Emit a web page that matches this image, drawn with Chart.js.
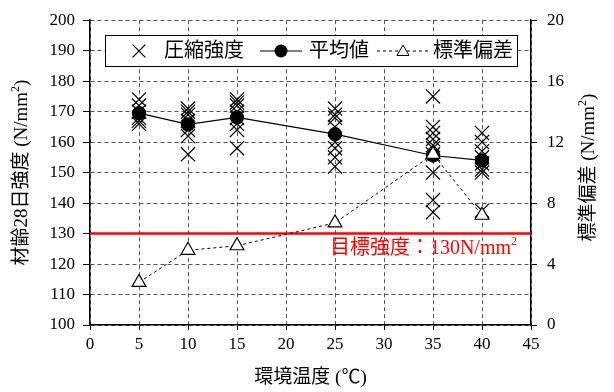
<!DOCTYPE html>
<html>
<head>
<meta charset="utf-8">
<script src="https://cdn.jsdelivr.net/npm/chart.js@4/dist/chart.umd.min.js"></script>
<style>
  html, body { margin: 0; padding: 0; background: #fff; }
  #wrap { width: 614px; height: 392px; }
</style>
</head>
<body>
<div id="wrap"><canvas id="c" width="614" height="392"></canvas></div>
<script>
// Ambient temperature (°C) of each curing condition
const temps = [5, 10, 15, 25, 35, 40];

// Individual 28-day compressive strengths (N/mm²) per temperature
const strengthAt5  = [174, 172, 170, 168, 167, 166];
const strengthAt10 = [171, 170, 169, 167, 164, 162, 156];
const strengthAt15 = [174, 173, 172, 170, 168, 166, 164, 158];
const strengthAt25 = [171, 169, 168, 165, 160, 158, 155, 152];
const strengthAt35 = [175, 165, 163, 161, 159, 158, 156, 150, 141, 137];
const strengthAt40 = [163, 160, 157, 155, 153, 151, 150, 137.5];

// Mean strength and standard deviation per temperature
const meanStrength = [169.5, 165.8, 168.1, 162.6, 155.6, 154.0];
const stdDev       = [2.8, 4.9, 5.2, 6.7, 11.2, 7.2];

// Target strength line
const targetStrength = 130;
const targetRange = [0, 45];

const strengthSets = [strengthAt5, strengthAt10, strengthAt15, strengthAt25, strengthAt35, strengthAt40];

const FONT = "'Liberation Serif','Noto Sans CJK JP',serif";
const GRID = '#555';

// Text with optional superscript pieces
function drawRich(ctx, parts, x, y, align, size, color) {
  ctx.save();
  ctx.fillStyle = color || '#000';
  ctx.textBaseline = 'middle';
  ctx.textAlign = 'left';
  let total = 0;
  const widths = parts.map(p => {
    ctx.font = (p.sup ? Math.round(size * 0.62) : size) + 'px ' + FONT;
    const w = ctx.measureText(p.t).width;
    total += w;
    return w;
  });
  let cx = align === 'center' ? x - total / 2 : (align === 'right' ? x - total : x);
  parts.forEach((p, i) => {
    ctx.font = (p.sup ? Math.round(size * 0.62) : size) + 'px ' + FONT;
    ctx.fillText(p.t, cx, p.sup ? y - size * 0.32 : y);
    cx += widths[i];
  });
  ctx.restore();
}

const overlay = {
  id: 'overlay',
  afterDatasetsDraw(chart) {
    const ctx = chart.ctx;
    const xs = chart.scales.x, ys = chart.scales.y;
    // target label under the red line
    drawRich(ctx, [{t: '目標強度：' + targetStrength + 'N/mm'}, {t: '2', sup: true}],
      xs.getPixelForValue(45) - 14, ys.getPixelForValue(targetStrength) + 15, 'right', 20, '#ff0000');

    // legend box
    const L = 105, T = 35, R = 518, B = 67, cy = (T + B) / 2;
    ctx.save();
    ctx.fillStyle = '#fff';
    ctx.fillRect(L, T, R - L, B - T);
    ctx.strokeStyle = '#000';
    ctx.lineWidth = 1;
    ctx.strokeRect(L + 0.5, T + 0.5, R - L - 1, B - T - 1);
    ctx.lineWidth = 1.2;
    Chart.helpers.drawPoint(ctx, {pointStyle: 'crossRot', radius: 9, borderWidth: 1.2}, 139, cy);
    ctx.font = '20px ' + FONT;
    ctx.fillStyle = '#000';
    ctx.textBaseline = 'middle';
    ctx.fillText('圧縮強度', 164, cy + 1);
    ctx.beginPath(); ctx.moveTo(260, cy); ctx.lineTo(302, cy); ctx.lineWidth = 1.2; ctx.stroke();
    ctx.beginPath(); ctx.arc(281, cy, 6.5, 0, Math.PI * 2); ctx.fill();
    ctx.fillText('平均値', 309, cy + 1);
    ctx.setLineDash([3, 3]);
    ctx.lineWidth = 1;
    ctx.beginPath(); ctx.moveTo(377, cy); ctx.lineTo(430, cy); ctx.stroke();
    ctx.setLineDash([]);
    ctx.fillStyle = '#fff';
    ctx.strokeStyle = '#000';
    Chart.helpers.drawPoint(ctx, {pointStyle: 'triangle', radius: 7, borderWidth: 1.2}, 403, cy + 1);
    ctx.fillStyle = '#000';
    ctx.fillText('標準偏差', 433, cy + 1);
    ctx.restore();
  },
  afterDraw(chart) {
    const ctx = chart.ctx;
    const a = chart.chartArea;
    const midY = (a.top + a.bottom) / 2;
    // left title
    ctx.save();
    ctx.translate(22, midY);
    ctx.rotate(-Math.PI / 2);
    drawRich(ctx, [{t: '材齢28日強度 (N/mm'}, {t: '2', sup: true}, {t: ')'}], 0, 0, 'center', 19);
    ctx.restore();
    // right title
    ctx.save();
    ctx.translate(589, midY - 5);
    ctx.rotate(-Math.PI / 2);
    drawRich(ctx, [{t: '標準偏差 (N/mm'}, {t: '2', sup: true}, {t: ')'}], 0, 0, 'center', 19);
    ctx.restore();
    // bottom title
    drawRich(ctx, [{t: '環境温度 (℃)'}], (a.left + a.right) / 2, 378, 'center', 19);
  }
};

const scatterPts = [];
temps.forEach((t, i) => strengthSets[i].forEach(v => scatterPts.push({x: t, y: v})));

new Chart(document.getElementById('c'), {
  type: 'scatter',
  data: {
    datasets: [
      {
        label: '標準偏差',
        data: temps.map((t, i) => ({x: t, y: stdDev[i]})),
        yAxisID: 'y2',
        showLine: true,
        borderColor: '#000',
        borderWidth: 1,
        borderDash: [3, 3],
        pointStyle: 'triangle',
        pointRadius: 8,
        pointBackgroundColor: '#fff',
        pointBorderColor: '#000',
        pointBorderWidth: 1.2,
        order: 0
      },
      {
        label: '平均値',
        data: temps.map((t, i) => ({x: t, y: meanStrength[i]})),
        yAxisID: 'y',
        showLine: true,
        borderColor: '#000',
        borderWidth: 1.2,
        pointStyle: 'circle',
        pointRadius: 6.5,
        pointBackgroundColor: '#000',
        pointBorderColor: '#000',
        order: 1
      },
      {
        label: '圧縮強度',
        data: scatterPts,
        yAxisID: 'y',
        showLine: false,
        pointStyle: 'crossRot',
        pointRadius: 10,
        pointBorderColor: '#000',
        pointBorderWidth: 1.2,
        order: 2
      },
      {
        label: '目標強度',
        data: targetRange.map(x => ({x, y: targetStrength})),
        yAxisID: 'y',
        showLine: true,
        borderColor: '#ff0000',
        borderWidth: 2.5,
        pointRadius: 0,
        order: 3
      }
    ]
  },
  options: {
    responsive: false,
    animation: false,
    events: [],
    layout: { padding: { top: 19, left: 0, right: 0, bottom: 0 } },
    plugins: { legend: { display: false }, tooltip: { enabled: false } },
    scales: {
      x: {
        type: 'linear', min: 0, max: 45,
        afterFit(s) { s.height = 67; },
        ticks: { stepSize: 5, color: '#000', font: { family: FONT, size: 17 }, padding: 4, maxRotation: 0 },
        grid: { color: GRID, lineWidth: 1, borderDash: [4, 3], tickLength: 5, tickColor: '#000', tickBorderDash: [] },
        border: { display: true, color: '#000', width: 1.5, dash: [4, 3] }
      },
      y: {
        position: 'left', min: 100, max: 200,
        afterFit(s) { s.width = 90; },
        ticks: { stepSize: 10, color: '#000', font: { family: FONT, size: 17 }, padding: 8 },
        grid: { color: GRID, lineWidth: 1, borderDash: [4, 3], tickLength: 7, tickColor: '#000', tickBorderDash: [] },
        border: { display: true, color: '#000', width: 1.5, dash: [4, 3] }
      },
      y2: {
        position: 'right', min: 0, max: 20,
        afterFit(s) { s.width = 83; },
        ticks: { stepSize: 4, color: '#000', font: { family: FONT, size: 17 }, padding: 10 },
        grid: { drawOnChartArea: false, tickLength: 6, tickColor: '#000', color: '#000' },
        border: { display: true, color: '#000', width: 1.5 }
      }
    }
  },
  plugins: [overlay]
});
</script>
</body>
</html>
